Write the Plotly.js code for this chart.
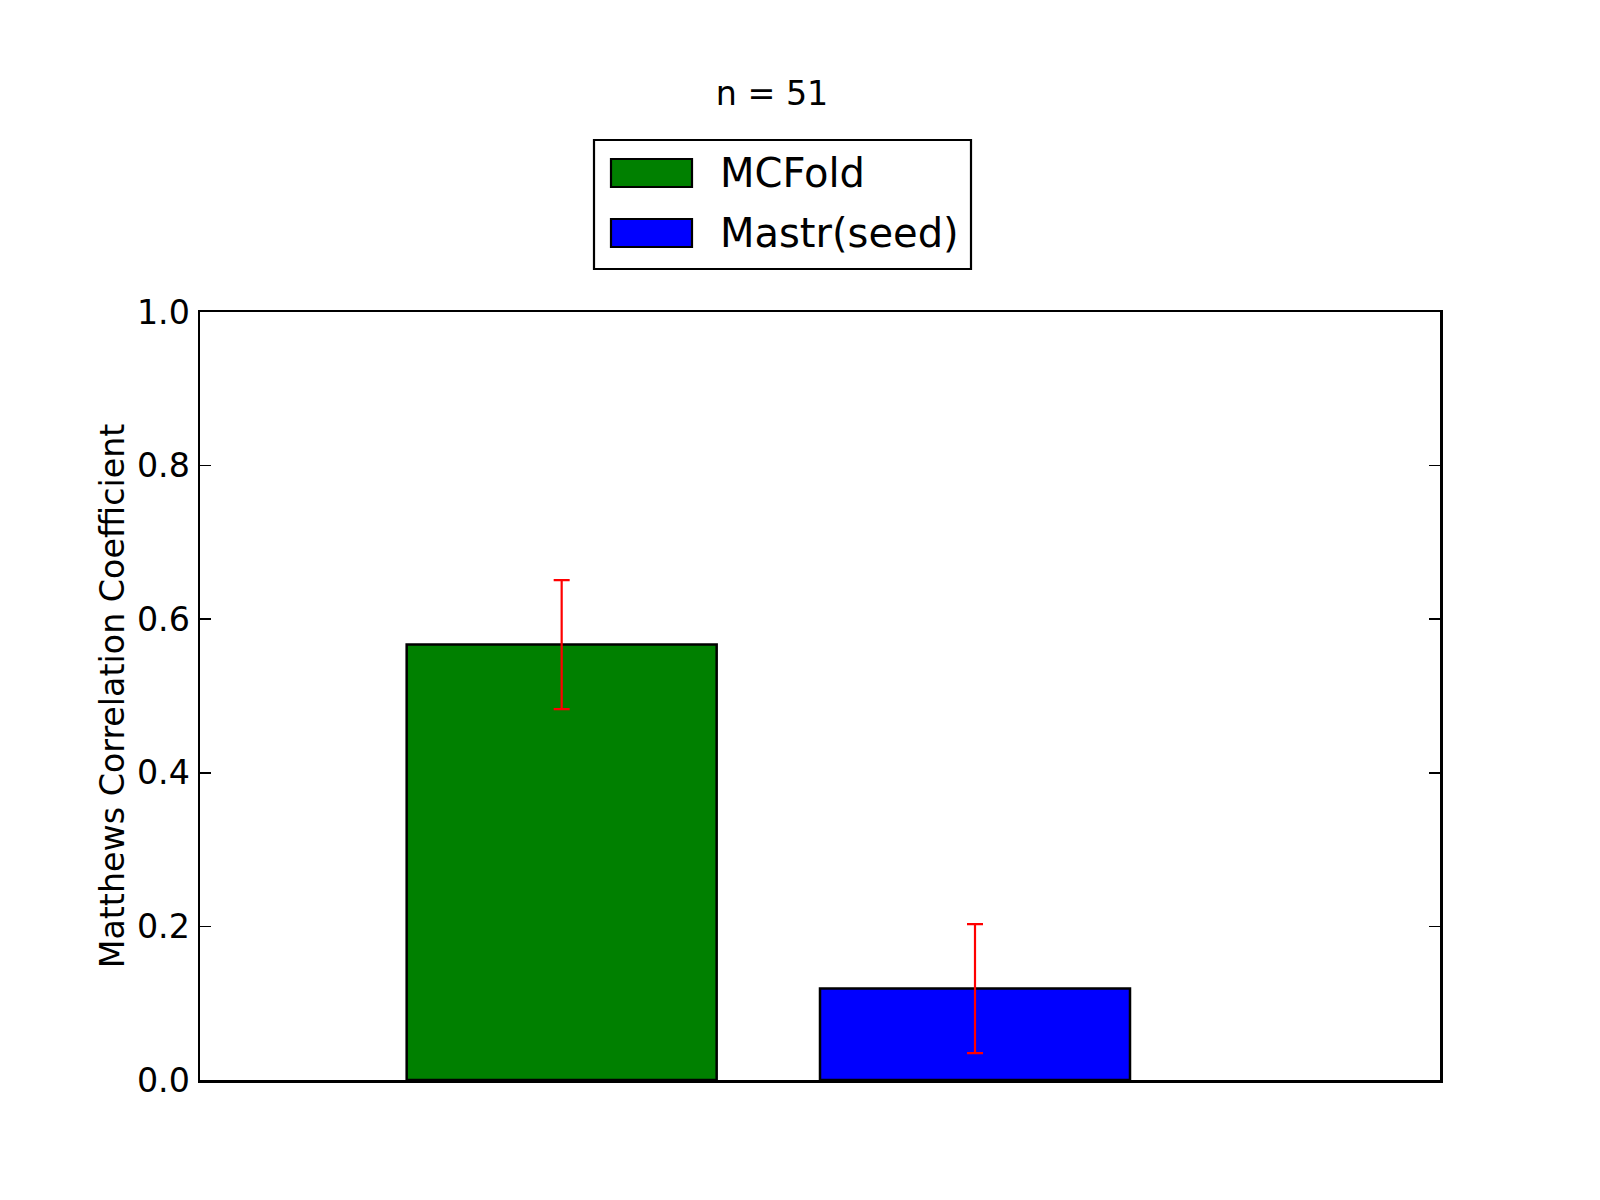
<!DOCTYPE html>
<html>
<head>
<meta charset="utf-8">
<script src="https://cdn.plot.ly/plotly-3.0.1.min.js"></script>
<style>html,body{margin:0;padding:0;background:#fff;}#chart{width:1600px;height:1200px;}</style>
</head>
<body>
<div id="chart"></div>
<script>
// Data
const seriesNames = ["MCFold", "Mastr(seed)"];
const barValues = [0.567, 0.119];
const errValues = [0.084, 0.084];
const barPositions = [0.875, 1.875];
const barColors = ["#008000", "#0000ff"];
const titleText = "n = 51";
const yTitle = "Matthews Correlation Coefficient";
const yTickVals = [0.0, 0.2, 0.4, 0.6, 0.8, 1.0];
const yTickText = ["0.0", "0.2", "0.4", "0.6", "0.8", "1.0"];

const FONT = "DejaVu Sans, sans-serif";
const FS = 33.3;

const traces = seriesNames.map((name, i) => ({
  type: "bar",
  name: name,
  x: [barPositions[i]],
  y: [barValues[i]],
  width: 0.75,
  marker: {color: barColors[i], line: {color: "#000", width: 2.5}},
  error_y: {type: "data", array: [errValues[i]], visible: true, color: "#ff0000", thickness: 2.2, width: 8},
  showlegend: false,
  hoverinfo: "skip"
}));

// Legend drawn as shapes + annotations (matplotlib style)
const L = 200, R = 160, T = 312, B = 120, W = 1600, H = 1200;
const pw = W - L - R, ph = H - T - B;
const px = v => (v - L) / pw;
const py = v => (H - B - v) / ph;

const shapes = [{
  type: "rect", xref: "paper", yref: "paper",
  x0: px(594), x1: px(971), y0: py(269), y1: py(140),
  line: {color: "#000", width: 2.2}, fillcolor: "#fff"
}];
const annotations = [];
seriesNames.forEach((name, i) => {
  const top = 159 + 60 * i;
  shapes.push({
    type: "rect", xref: "paper", yref: "paper",
    x0: px(611), x1: px(692), y0: py(top + 28), y1: py(top),
    line: {color: "#000", width: 2.2}, fillcolor: barColors[i]
  });
  annotations.push({
    xref: "paper", yref: "paper", x: px(718), y: py(top + 14),
    xanchor: "left", yanchor: "middle", showarrow: false,
    text: name, font: {family: FONT, size: 40, color: "#000"}
  });
});

const layout = {
  width: W, height: H,
  margin: {l: L, r: R, t: T, b: B},
  paper_bgcolor: "#fff", plot_bgcolor: "#fff",
  font: {family: FONT, color: "#000"},
  title: {
    text: titleText, font: {family: FONT, size: FS, color: "#000"},
    xref: "paper", x: px(772), xanchor: "center",
    yref: "container", y: 1 - 93 / H, yanchor: "middle"
  },
  xaxis: {
    range: [0, 3], showticklabels: false, ticks: "", showgrid: false, zeroline: false,
    showline: true, linecolor: "#000", linewidth: 2.5, mirror: true, fixedrange: true
  },
  yaxis: {
    range: [0, 1], tickvals: yTickVals, ticktext: yTickText,
    ticks: "inside", ticklen: 11, tickwidth: 1.5, tickcolor: "#000",
    ticklabelstandoff: 1,
    tickfont: {family: FONT, size: FS, color: "#000"},
    showgrid: false, zeroline: false,
    showline: true, linecolor: "#000", linewidth: 2.5, mirror: "ticks",
    title: {text: yTitle, font: {family: FONT, size: FS, color: "#000"}, standoff: 2}
  },
  shapes: shapes,
  annotations: annotations,
  bargap: 0
};

Plotly.newPlot("chart", traces, layout, {staticPlot: true, displayModeBar: false});
</script>
</body>
</html>
